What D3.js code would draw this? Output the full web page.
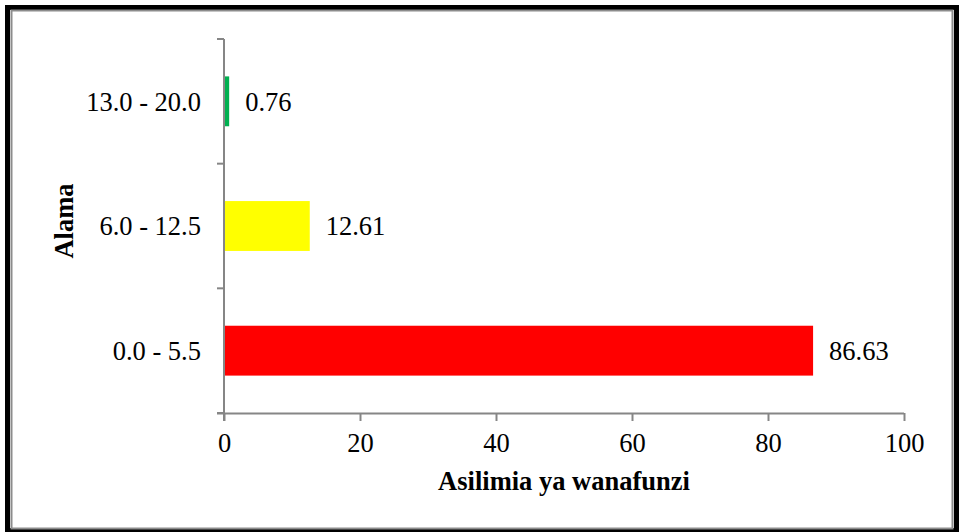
<!DOCTYPE html>
<html>
<head>
<meta charset="utf-8">
<script src="https://cdn.jsdelivr.net/npm/d3@7"></script>
<style>
  body { margin: 0; background: #fff; }
  svg text { font-family: "Liberation Serif", "Times New Roman", serif; }
</style>
</head>
<body>
<svg width="959" height="532"></svg>
<script>
// data
var categories = ["0.0 - 5.5", "6.0 - 12.5", "13.0 - 20.0"];
var values = [86.63, 12.61, 0.76];
var barColors = ["#ff0000", "#ffff00", "#00b050"];
var xTicks = [0, 20, 40, 60, 80, 100];

var fontSize = "26.5px";
var svg = d3.select("svg");

// frame: thick black outer border with grey inner line
svg.append("rect")
	.attr("x", 7.5).attr("y", 7.5)
	.attr("width", 949).attr("height", 523)
	.style("fill", "none")
	.style("stroke", "black")
	.style("stroke-width", 5);
svg.append("rect")
	.attr("x", 11.5).attr("y", 10.5)
	.attr("width", 941).attr("height", 518)
	.style("fill", "#fff")
	.style("stroke", "#8c8c8c")
	.style("stroke-width", 2);

var plotLeft = 224, plotRight = 904, plotTop = 39, plotBottom = 413;

var x = d3.scaleLinear().domain([0, 100]).range([plotLeft, plotRight]);
var y = d3.scaleBand().domain(categories).range([plotBottom, plotTop]).paddingInner(0.6).paddingOuter(0.3);
var yEdges = d3.scaleBand().domain(categories).range([plotBottom, plotTop]);

var g = svg.append("g");

// bars
g.selectAll("rect.bar")
	.data(categories)
	.enter()
	.append("rect")
	.attr("class", "bar")
	.attr("x", x(0))
	.attr("y", function (d) { return y(d); })
	.attr("width", function (d, i) { return x(values[i]) - x(0); })
	.attr("height", y.bandwidth())
	.style("fill", function (d, i) { return barColors[i]; });

// value labels
g.selectAll("text.val")
	.data(categories)
	.enter()
	.append("text")
	.attr("class", "val")
	.attr("x", function (d, i) { return x(values[i]) + 16; })
	.attr("y", function (d) { return y(d) + y.bandwidth() / 2; })
	.attr("dy", "0.35em")
	.style("font-size", fontSize)
	.text(function (d, i) { return values[i].toFixed(2); });

// x axis
var xAxis = g.append("g")
	.attr("transform", "translate(0," + plotBottom + ")")
	.call(d3.axisBottom(x).tickValues(xTicks).tickSize(8).tickSizeOuter(0).tickPadding(12));
xAxis.select(".domain").attr("d", "M" + (plotLeft - 7) + ",0.5H" + plotRight).style("stroke", "#868686").style("stroke-width", 2);
xAxis.selectAll(".tick line").style("stroke", "#868686").style("stroke-width", 2);
xAxis.selectAll(".tick text")
	.style("font-size", fontSize)
	.style("fill", "#000")
	.style("font-family", "Liberation Serif, serif");

// y axis with ticks between categories
g.append("line")
	.attr("x1", plotLeft).attr("x2", plotLeft)
	.attr("y1", plotTop).attr("y2", plotBottom + 8)
	.style("stroke", "#868686").style("stroke-width", 2);
var yTickPos = categories.map(function (d) { return yEdges(d); }).concat([plotBottom]);
g.selectAll("line.ytick")
	.data(yTickPos)
	.enter()
	.append("line")
	.attr("class", "ytick")
	.attr("x1", plotLeft - 7).attr("x2", plotLeft)
	.attr("y1", function (d) { return d; })
	.attr("y2", function (d) { return d; })
	.style("stroke", "#868686").style("stroke-width", 2);

g.selectAll("text.cat")
	.data(categories)
	.enter()
	.append("text")
	.attr("class", "cat")
	.attr("x", 201)
	.attr("y", function (d) { return yEdges(d) + yEdges.bandwidth() / 2; })
	.attr("dy", "0.35em")
	.attr("text-anchor", "end")
	.style("font-size", fontSize)
	.text(function (d) { return d; });

// axis titles
svg.append("text")
	.attr("x", (plotLeft + plotRight) / 2)
	.attr("y", 490)
	.attr("text-anchor", "middle")
	.style("font-size", fontSize)
	.style("font-weight", "bold")
	.text("Asilimia ya wanafunzi");

svg.append("text")
	.attr("transform", "translate(73,221) rotate(-90)")
	.attr("text-anchor", "middle")
	.style("font-size", fontSize)
	.style("font-weight", "bold")
	.text("Alama");
</script>
</body>
</html>
